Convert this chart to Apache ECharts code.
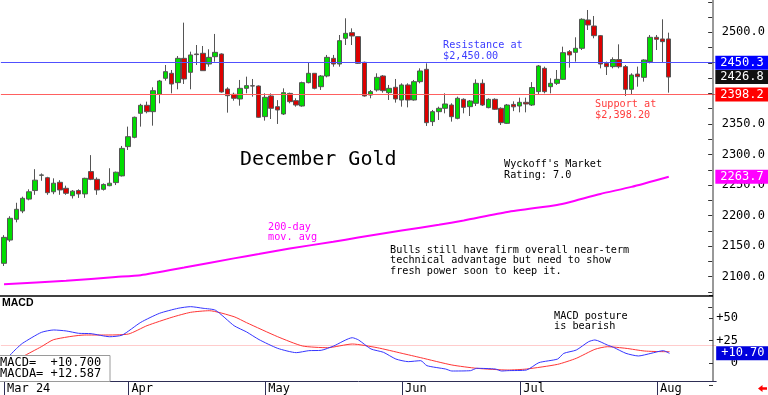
<!DOCTYPE html>
<html><head><meta charset="utf-8">
<script src="https://cdn.jsdelivr.net/npm/echarts/dist/echarts.min.js"></script>
<style>html,body{margin:0;padding:0;background:#fff}#c{width:768px;height:395px}</style>
</head><body><div id="c"></div>
<script>
// ---- data ----
const dates = [
 '2024-03-01','2024-03-04','2024-03-05','2024-03-06','2024-03-07','2024-03-08','2024-03-11','2024-03-12','2024-03-13','2024-03-14',
 '2024-03-15','2024-03-18','2024-03-19','2024-03-20','2024-03-21','2024-03-22','2024-03-25','2024-03-26','2024-03-27','2024-03-28',
 '2024-04-01','2024-04-02','2024-04-03','2024-04-04','2024-04-05','2024-04-08','2024-04-09','2024-04-10','2024-04-11','2024-04-12',
 '2024-04-15','2024-04-16','2024-04-17','2024-04-18','2024-04-19','2024-04-22','2024-04-23','2024-04-24','2024-04-25','2024-04-26',
 '2024-04-29','2024-04-30','2024-05-01','2024-05-02','2024-05-03','2024-05-06','2024-05-07','2024-05-08','2024-05-09','2024-05-10',
 '2024-05-13','2024-05-14','2024-05-15','2024-05-16','2024-05-17','2024-05-20','2024-05-21','2024-05-22','2024-05-23','2024-05-24',
 '2024-05-28','2024-05-29','2024-05-30','2024-05-31','2024-06-03','2024-06-04','2024-06-05','2024-06-06','2024-06-07','2024-06-10',
 '2024-06-11','2024-06-12','2024-06-13','2024-06-14','2024-06-17','2024-06-18','2024-06-20','2024-06-21','2024-06-24','2024-06-25',
 '2024-06-26','2024-06-27','2024-06-28','2024-07-01','2024-07-02','2024-07-03','2024-07-05','2024-07-08','2024-07-09','2024-07-10',
 '2024-07-11','2024-07-12','2024-07-15','2024-07-16','2024-07-17','2024-07-18','2024-07-19','2024-07-22','2024-07-23','2024-07-24',
 '2024-07-25','2024-07-26','2024-07-29','2024-07-30','2024-07-31','2024-08-01','2024-08-02','2024-08-05'
];
const padDays = ['2024-08-06','2024-08-07','2024-08-08','2024-08-09','2024-08-12','2024-08-13','2024-08-14'];
// [open, close, low, high]
const ohlc = [
 [2121.9,2164.4,2117.5,2168],[2160,2195.6,2157,2199],[2194,2210.3,2189,2221],[2207.5,2228.3,2204,2231],[2227,2239,2225,2243],
 [2241,2258,2234,2276],[2266,2266.5,2257,2269],[2262,2237.5,2234,2263.5],[2239,2253,2235,2261],[2254.5,2242,2234,2258],
 [2244.7,2236.5,2234,2249],[2232.6,2240,2228,2241.8],[2241,2235.5,2229,2243],[2235.5,2261,2229,2262],[2272,2259.4,2258,2299],
 [2259.4,2242,2234,2262.5],[2243,2251,2241,2252.7],[2249,2253,2248,2277.5],[2254,2271,2250,2272],[2265,2310,2264,2314],
 [2312.9,2329.2,2307.4,2345.6],[2328.1,2360.9,2326.5,2362],[2367.4,2380.5,2345.6,2383],[2380.5,2370.1,2367.4,2386.5],[2370.1,2404.5,2347.2,2410],
 [2398.5,2420.3,2383.8,2422],[2424.7,2435.6,2420.9,2446.5],[2432.9,2415.4,2400.1,2438.3],[2417.6,2457.4,2406.7,2461.2],[2457.4,2423.6,2415.4,2515.8],
 [2434.5,2462.9,2406.7,2468.3],[2464.5,2463.5,2446.5,2479.2],[2465.6,2437.2,2437.2,2477.6],[2448.1,2459,2443.7,2472.2],[2460.1,2467.2,2451.9,2497.3],
 [2464.5,2402.3,2401.2,2465.6],[2407.2,2396.3,2368.5,2410],[2398.5,2392,2388.1,2401.2],[2390.9,2408.3,2379.9,2422],[2408.3,2412.7,2400.1,2427.4],
 [2412.5,2412.1,2394.7,2423.6],[2412.1,2360.9,2360,2413],[2362,2393.6,2355.4,2400.1],[2395.8,2375.6,2358.1,2400],[2378.3,2372.9,2350,2389],
 [2366.3,2401.2,2364.7,2408.3],[2400,2386.5,2383.8,2401.2],[2388.1,2381,2378.3,2392],[2379.4,2417.6,2378.3,2419.2],[2417.6,2432.9,2416.5,2450.9],
 [2432.9,2408.3,2406.7,2433],[2411,2428.5,2405.6,2430],[2428.5,2459,2426.3,2462.9],[2457.4,2448.1,2443.7,2462.9],[2448.1,2486.3,2443.7,2495.6],
 [2490.2,2498.3,2479.2,2522.9],[2499.4,2494,2479.2,2506.5],[2492.9,2449.2,2448.1,2493],[2450.9,2395.8,2394.7,2452],[2397.4,2402.9,2392,2405.6],
 [2405.6,2426.3,2402.9,2432.9],[2428.5,2404.5,2401.2,2430],[2401.2,2408.3,2389.2,2413.8],[2410,2390.9,2384.9,2423.6],[2389.2,2413.8,2378.3,2416.5],
 [2413.8,2389.2,2377.2,2416.5],[2389.2,2419.2,2388.1,2422],[2419.2,2436.7,2416.5,2441],[2439.4,2352.1,2346.7,2449.2],[2353.8,2370.1,2346.7,2372.9],
 [2370.1,2375.6,2356.5,2378.3],[2375.6,2382.7,2367.4,2400.1],[2381,2361.9,2353.8,2383.8],[2359.2,2392,2357.6,2394.7],[2390.3,2377.2,2367.4,2392],
 [2378.3,2387.6,2363,2389.2],[2383.8,2416.5,2379.4,2423],[2416.5,2381,2379.4,2423],[2376.7,2390.3,2375.6,2392],[2390.3,2374,2372.9,2392],
 [2375.6,2352.1,2348.3,2377.2],[2351,2381,2350,2382.7],[2382,2378,2371,2387],[2379.4,2385.4,2369,2393],[2385.4,2382.7,2369,2393],
 [2381,2409.6,2379.4,2418.5],[2402.9,2444.9,2399,2446.5],[2441,2402.9,2400.1,2443.8],[2411,2416.5,2400.1,2424.7],[2416.5,2423,2413.8,2438.3],
 [2423,2466.7,2422,2476.5],[2468.3,2462.9,2442.1,2471],[2467.2,2473.8,2452,2491.8],[2473.8,2521.3,2471,2522.9],[2520.2,2512,2503.8,2536.5],
 [2510.3,2494.5,2490.2,2526.7],[2494.5,2448.1,2441,2495.6],[2449.2,2443.8,2430.1,2452],[2443.8,2455.4,2441,2459],[2455.4,2443.7,2441,2480.3],
 [2443.8,2406.7,2395.8,2446.5],[2406.7,2430.1,2397.4,2432.9],[2431.6,2427.4,2411,2443.8],[2426.3,2454.7,2419.2,2455.8],[2452,2491.8,2449.2,2495.6],
 [2491.8,2488.5,2471,2495.6],[2489.1,2484.7,2450.3,2521.3],[2489.1,2426.8,2401.2,2499.4]
];
// 200-day moving average [dayIndex, value]
const ma200 = [[0,2087.6],[10,2093.4],[18,2099.5],[22,2102.5],[29,2115],[37,2130],[41,2137],[46,2146],[53,2157.3],[57,2164],
 [64,2175.5],[70,2185],[74,2192],[81,2206],[89,2217.5],[91,2222],[96,2235.5],[101,2247],[107,2263.7]];
// MACD line and its average (MACDA) [dayIndex, value]
const macd = [[0,2],[1,9],[2,16],[3,22],[6,34],[8,36.7],[10,35.6],[12,33],[14,32.6],[17,29.2],[19,31],[22,45.2],[25,55.2],[28,60.8],
 [30,62.6],[32,60.8],[34,58.6],[37,41.4],[39,34.5],[41,26],[44,16.3],[47,11.5],[49,13.7],[51,14.1],[53,18.9],[56,28.1],[57,25.6],
 [59,15.6],[61,11.9],[63,4.4],[65,1.5],[67,2.6],[68,-3],[71,-6.7],[72,-8.9],[75,-8.5],[76,-5.9],[79,-6.7],[80,-8.9],[81,-8.5],
 [84,-7.8],[86,0.4],[89,4.4],[90,10.7],[92,14.4],[94,23.7],[95,25.6],[97,20],[98,17.4],[100,10.7],[102,7.8],[104,10.7],[106,13.7],[107,10.7]];
const macdA = [[1,-2],[3,7],[6,18.1],[8,26],[13,31.1],[16,31.1],[20,32.2],[23,41.5],[27,50.8],[30,56.3],[33,58.1],[37,51.4],[39,44.8],
 [44,29.2],[48,18.9],[52,17],[56,21.1],[60,17],[64,10.7],[67,5.9],[72,-2.2],[76,-5.9],[81,-7.8],[84,-6.7],[89,-1.5],[92,5.2],
 [95,15.2],[97,18.1],[100,16.3],[103,13.3],[106,12.6],[107,12.587]];
const levels = { resistance: 2450.3, last: 2426.8, support: 2398.2, ma: 2263.7 };
const macdLevels = { last: 10.70, ref: 19.2 };
const macdReadout = { macd: '+10.700', macda: '+12.587' };
const monthTicks = { 0: 'Mar 24', 20: 'Apr', 42: 'May', 64: 'Jun', 83: 'Jul', 105: 'Aug' };
const hiddenPriceLabels = [2050, 2400, 2450, 2550];

// ---- chart ----
const MONO = '"DejaVu Sans Mono", monospace';
const CLEAR = 'rgba(0,0,0,0)';
const cats = dates.concat(padDays);
const chart = echarts.init(document.getElementById('c'), null, { renderer: 'canvas' });
const gridLeft = 0.89, gridWidth = 715.3;
const tagLabel = (bg) => ({
  show: true, position: 'end', distance: 0, color: '#fff', backgroundColor: bg, opacity: 1,
  padding: [1, 6, 1, 5], fontSize: 12, lineHeight: 12, fontFamily: MONO
});
chart.setOption({
  animation: false,
  backgroundColor: '#fff',
  grid: [
    { left: gridLeft, width: gridWidth, top: 1.75, height: 305.5 },
    { left: gridLeft, width: gridWidth, top: 295.5, height: 90 }
  ],
  xAxis: [
    { type: 'category', gridIndex: 0, data: cats, show: false, boundaryGap: true },
    { type: 'category', gridIndex: 1, data: cats, boundaryGap: true, offset: -4.5,
      axisLine: { show: true, onZero: false, lineStyle: { color: '#2e2e55', width: 1 } },
      axisTick: { show: true, alignWithLabel: true, length: 14, interval: (i) => (i in monthTicks),
        lineStyle: { color: '#2e2e55' } },
      axisLabel: { interval: (i) => (i in monthTicks), formatter: (v, i) => monthTicks[i] || '',
        align: 'left', margin: 2, padding: [0, 0, 0, 3], color: '#000', fontSize: 12, fontFamily: MONO },
      splitLine: { show: false } }
  ],
  yAxis: [
    { type: 'value', gridIndex: 0, position: 'right', offset: -3.19, min: 2050, max: 2550, interval: 50,
      axisLine: { show: false },
      axisTick: { show: true, inside: true, length: 4, lineStyle: { color: '#333' } },
      minorTick: { show: true, splitNumber: 2, length: 4, lineStyle: { color: '#333' } },
      splitLine: { show: false },
      axisLabel: { margin: 9.5, color: '#000', fontSize: 12, fontFamily: MONO,
        formatter: (v) => hiddenPriceLabels.includes(v) ? '' : v.toFixed(1) } },
    { type: 'value', gridIndex: 1, position: 'right', offset: -3.19, min: -25, max: 75, interval: 25,
      axisLine: { show: false },
      axisTick: { show: true, inside: true, length: 4, lineStyle: { color: '#333' } },
      splitLine: { show: false },
      axisLabel: { margin: 25, align: 'right', color: '#000', fontSize: 12, fontFamily: MONO,
        formatter: (v) => (v === 75 || v < 0) ? '' : (v > 0 ? '+' + v : '0') } }
  ],
  series: [
    { type: 'line', name: '200-day', xAxisIndex: 0, yAxisIndex: 0, data: ma200, smooth: 0.2, showSymbol: false,
      z: 2, lineStyle: { color: '#ff00ff', width: 2 },
      markLine: { silent: true, symbol: 'none', z: 10,
        data: [
          { yAxis: levels.resistance, lineStyle: { color: '#5050ff', width: 1, type: 'solid' },
            label: Object.assign(tagLabel('#0000ff'), { formatter: () => levels.resistance.toFixed(1) }) },
          { yAxis: levels.support, lineStyle: { color: '#ff6060', width: 1, type: 'solid' },
            label: Object.assign(tagLabel('#ff0000'), { formatter: () => levels.support.toFixed(1) }) },
          { yAxis: levels.last, lineStyle: { color: CLEAR, width: 1, type: 'solid' },
            label: Object.assign(tagLabel('#111111'), { formatter: () => levels.last.toFixed(1) }) },
          { yAxis: levels.ma, lineStyle: { color: CLEAR, width: 1, type: 'solid' },
            label: Object.assign(tagLabel('#ff00ff'), { formatter: () => levels.ma.toFixed(1) }) }
        ] } },
    { type: 'candlestick', name: 'Dec Gold', xAxisIndex: 0, yAxisIndex: 0, data: ohlc, barWidth: 5, z: 3,
      itemStyle: { color: '#00dd00', color0: '#dd0000', borderColor: '#555', borderColor0: '#555', borderWidth: 1 } },
    { type: 'line', name: 'MACD', xAxisIndex: 1, yAxisIndex: 1, data: macd, smooth: 0.2, showSymbol: false, z: 3,
      lineStyle: { color: '#3535ff', width: 1 },
      markLine: { silent: true, symbol: 'none', z: 1,
        data: [
          { yAxis: macdLevels.ref, lineStyle: { color: '#ffcccc', width: 1, type: 'solid' }, label: { show: false } },
          { yAxis: macdLevels.last, lineStyle: { color: CLEAR, width: 1, type: 'solid' },
            label: Object.assign(tagLabel('#0000dd'), { formatter: () => '+' + macdLevels.last.toFixed(2) }) }
        ] } },
    { type: 'line', name: 'MACDA', xAxisIndex: 1, yAxisIndex: 1, data: macdA, smooth: 0.2, showSymbol: false, z: 2,
      lineStyle: { color: '#ff3535', width: 1 } }
  ],
  graphic: [
    { type: 'line', z: 50, shape: { x1: 713, y1: 0, x2: 713, y2: 381 }, style: { stroke: '#333', lineWidth: 1 } },
    { type: 'line', z: 50, shape: { x1: 0, y1: 296, x2: 713, y2: 296 }, style: { stroke: '#000', lineWidth: 1.5 } },
    { type: 'text', z: 60, x: 443, y: 40.5, style: { text: 'Resistance at\n$2,450.00', fill: '#3c3cff',
      font: '10.2px ' + MONO, lineHeight: 10.5, verticalAlign: 'top' } },
    { type: 'text', z: 60, x: 595, y: 99.5, style: { text: 'Support at\n$2,398.20', fill: '#ff3c3c',
      font: '10.2px ' + MONO, lineHeight: 10.5, verticalAlign: 'top' } },
    { type: 'text', z: 60, x: 240, y: 160, style: { text: 'December Gold', fill: '#000',
      font: '20px ' + MONO, verticalAlign: 'middle' } },
    { type: 'text', z: 60, x: 504, y: 159.5, style: { text: "Wyckoff's Market\nRating: 7.0", fill: '#000',
      font: '10.2px ' + MONO, lineHeight: 10.5, verticalAlign: 'top' } },
    { type: 'text', z: 60, x: 268, y: 222, style: { text: '200-day\nmov. avg', fill: '#ff00ff',
      font: '10.2px ' + MONO, lineHeight: 10.5, verticalAlign: 'top' } },
    { type: 'text', z: 60, x: 390, y: 244.7, style: {
      text: 'Bulls still have firm overall near-term\ntechnical advantage but need to show\nfresh power soon to keep it.',
      fill: '#000', font: '10.2px ' + MONO, lineHeight: 10.5, verticalAlign: 'top' } },
    { type: 'text', z: 60, x: 554, y: 311.7, style: { text: 'MACD posture\nis bearish', fill: '#000',
      font: '10.2px ' + MONO, lineHeight: 10, verticalAlign: 'top' } },
    { type: 'text', z: 60, x: 2, y: 303, style: { text: 'MACD', fill: '#000',
      font: 'bold 10.5px "Liberation Sans", Arial, sans-serif', verticalAlign: 'middle' } },
    { type: 'rect', z: 60, shape: { x: -1, y: 355.5, width: 111, height: 26 }, style: { fill: '#fff', stroke: '#9a9a9a', lineWidth: 1 } },
    { type: 'text', z: 61, x: 0, y: 362.7, style: { text: 'MACD=  ' + macdReadout.macd, fill: '#000',
      font: '12px ' + MONO, verticalAlign: 'middle' } },
    { type: 'text', z: 61, x: 0, y: 373.7, style: { text: 'MACDA= ' + macdReadout.macda, fill: '#000',
      font: '12px ' + MONO, verticalAlign: 'middle' } },
    { type: 'polygon', z: 60, shape: { points: [[758, 388.5], [762.5, 385], [762.5, 387.3], [767, 387.3], [767, 389.7], [762.5, 389.7], [762.5, 392]] },
      style: { fill: '#ff0000' } }
  ]
});
</script>
</body></html>
